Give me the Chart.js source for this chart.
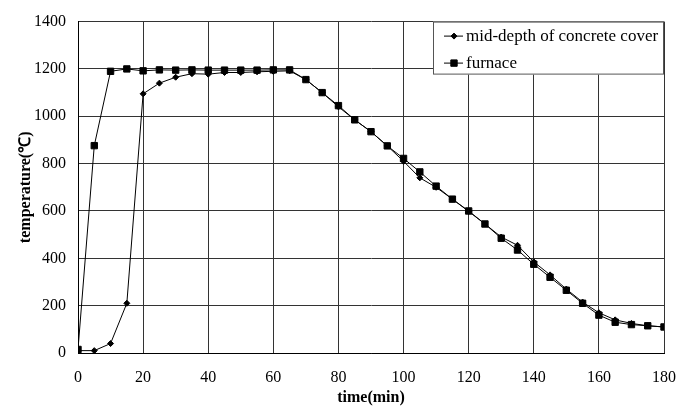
<!DOCTYPE html>
<html>
<head>
<meta charset="utf-8">
<script src="https://cdn.jsdelivr.net/npm/chart.js@4/dist/chart.umd.min.js"></script>
<style>
  html, body { margin: 0; padding: 0; background: #fff; }
  #wrap { width: 691px; height: 407px; }
</style>
</head>
<body>
<div id="wrap"><canvas id="tempChart" width="691" height="407"></canvas></div>
<script>
// time in minutes, one reading every 5 min
const times = [0, 5, 10, 15, 20, 25, 30, 35, 40, 45, 50, 55, 60, 65, 70, 75, 80, 85, 90,
  95, 100, 105, 110, 115, 120, 125, 130, 135, 140, 145, 150, 155, 160, 165, 170, 175, 180];

const midDepth = [10, 10, 40, 210, 1095, 1140, 1165, 1180, 1178, 1185, 1185, 1188, 1190, 1192, 1155, 1100, 1040, 985, 935,
  875, 810, 740, 700, 650, 598, 545, 490, 455, 385, 330, 270, 215, 170, 140, 125, 115, 110];

const furnace = [15, 876, 1190, 1200, 1192, 1196, 1195, 1196, 1195, 1195, 1195, 1195, 1196, 1196, 1155, 1100, 1045, 985, 935,
  875, 822, 765, 705, 650, 600, 545, 485, 435, 375, 320, 265, 210, 160, 130, 120, 115, 110];

const seriesNames = ["mid-depth of concrete cover", "furnace"];

const serif = "'Liberation Serif', 'Times New Roman', serif";

// legend box drawn inside the plot, top right corner
const boxLegend = {
  id: "boxLegend",
  afterDatasetsDraw(chart) {
    const { ctx, chartArea } = chart;
    const w = 231, h = 53;
    const x0 = chartArea.right - w, y0 = chartArea.top;
    ctx.save();
    ctx.fillStyle = "#fff";
    ctx.fillRect(x0, y0, w, h);
    ctx.strokeStyle = "#555";
    ctx.lineWidth = 1;
    ctx.strokeRect(x0 + 0.5, y0 + 0.5, w - 1, h - 1);
    ctx.font = "17px " + serif;
    ctx.textBaseline = "middle";
    chart.data.datasets.forEach((ds, i) => {
      const cy = y0 + 14 + i * 27;
      ctx.strokeStyle = "#000";
      ctx.fillStyle = "#000";
      ctx.lineWidth = 1;
      ctx.beginPath();
      ctx.moveTo(x0 + 11, cy + 0.5);
      ctx.lineTo(x0 + 30, cy + 0.5);
      ctx.stroke();
      Chart.helpers.drawPoint(ctx, { pointStyle: ds.pointStyle, radius: ds.pointRadius, borderWidth: 1 }, x0 + 21, cy + 0.5);
      ctx.fillText(ds.label, x0 + 33, cy + 1);
    });
    ctx.restore();
  }
};

new Chart(document.getElementById("tempChart"), {
  type: "line",
  data: {
    datasets: [
      {
        label: seriesNames[0],
        data: times.map((t, i) => ({ x: t, y: midDepth[i] })),
        borderColor: "#000",
        borderWidth: 1,
        backgroundColor: "#000",
        pointStyle: "rectRot",
        pointRadius: 3,
        pointBorderWidth: 1,
        tension: 0
      },
      {
        label: seriesNames[1],
        data: times.map((t, i) => ({ x: t, y: furnace[i] })),
        borderColor: "#000",
        borderWidth: 1,
        backgroundColor: "#000",
        pointStyle: "rect",
        pointRadius: 4.5,
        pointBorderWidth: 1,
        tension: 0
      }
    ]
  },
  options: {
    responsive: false,
    animation: false,
    layout: { padding: { top: 20, right: 25, left: 0, bottom: 0 } },
    plugins: {
      legend: { display: false },
      tooltip: { enabled: false }
    },
    scales: {
      x: {
        type: "linear",
        min: 0,
        max: 180,
        afterFit: s => { s.height = 54; },
        ticks: {
          stepSize: 20,
          color: "#000",
          font: { family: serif, size: 16 },
          padding: 15,
          callback: v => String(v)
        },
        grid: { color: "#333", lineWidth: 1, drawTicks: false },
        border: { color: "#000", width: 1 },
        title: {
          display: true,
          text: "time(min)",
          color: "#000",
          font: { family: serif, size: 16, weight: "bold" },
          padding: { top: 0, bottom: 0 }
        }
      },
      y: {
        min: 0,
        max: 1400,
        afterFit: s => { s.width = 78; },
        ticks: {
          stepSize: 200,
          color: "#000",
          font: { family: serif, size: 16 },
          padding: 12,
          callback: v => String(v)
        },
        grid: { color: "#333", lineWidth: 1, drawTicks: false },
        border: { color: "#000", width: 1 },
        title: {
          display: true,
          text: "temperature(℃)",
          color: "#000",
          font: { family: serif, size: 16, weight: "bold" },
          padding: { top: 16, bottom: 0 }
        }
      }
    }
  },
  plugins: [boxLegend]
});
</script>
</body>
</html>
